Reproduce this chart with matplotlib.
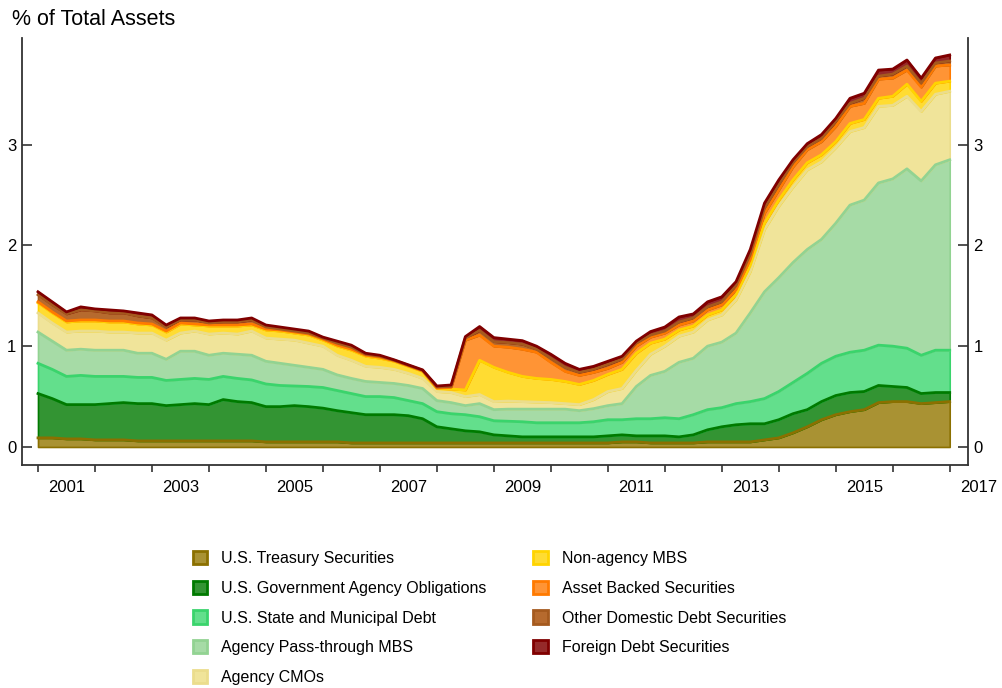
import numpy as np
import matplotlib
matplotlib.use("Agg")
import matplotlib.pyplot as plt
from matplotlib.patches import Patch
from matplotlib.transforms import blended_transform_factory

plt.rcParams['font.family'] = ['Liberation Sans', 'DejaVu Sans']

# quarterly observations, 2001Q1 .. 2017Q1 position on the axis
n_q = 65
quarters = 2001 + 0.25 * np.arange(n_q)

treasury = [0.09, 0.09, 0.08, 0.08, 0.07, 0.07, 0.07, 0.06, 0.06, 0.06, 0.06, 0.06, 0.06,
            0.06, 0.06, 0.06, 0.05, 0.05, 0.05, 0.05, 0.05, 0.05, 0.04, 0.04, 0.04, 0.04,
            0.04, 0.04, 0.04, 0.04, 0.04, 0.04, 0.04, 0.04, 0.04, 0.04, 0.04, 0.04, 0.04,
            0.04, 0.04, 0.05, 0.05, 0.04, 0.04, 0.04, 0.04, 0.05, 0.05, 0.05, 0.05, 0.07,
            0.09, 0.14, 0.20, 0.27, 0.32, 0.35, 0.37, 0.44, 0.45, 0.45, 0.43, 0.44, 0.45]
agency_oblig = [0.44, 0.39, 0.34, 0.34, 0.35, 0.36, 0.37, 0.37, 0.37, 0.35, 0.36, 0.37, 0.36,
                0.41, 0.39, 0.38, 0.35, 0.35, 0.36, 0.35, 0.335, 0.31, 0.30, 0.28, 0.28, 0.28,
                0.27, 0.24, 0.16, 0.14, 0.12, 0.11, 0.08, 0.07, 0.06, 0.06, 0.06, 0.06, 0.06,
                0.06, 0.07, 0.07, 0.06, 0.07, 0.07, 0.06, 0.08, 0.12, 0.15, 0.17, 0.18, 0.16,
                0.18, 0.19, 0.17, 0.18, 0.19, 0.19, 0.18, 0.17, 0.15, 0.14, 0.10, 0.10, 0.09]
muni = [0.30, 0.29, 0.28, 0.29, 0.28, 0.27, 0.26, 0.26, 0.26, 0.25, 0.25, 0.25, 0.25,
        0.23, 0.23, 0.225, 0.225, 0.21, 0.195, 0.20, 0.205, 0.20, 0.19, 0.18, 0.18, 0.17,
        0.15, 0.15, 0.15, 0.15, 0.16, 0.15, 0.14, 0.145, 0.15, 0.14, 0.14, 0.14, 0.14,
        0.15, 0.16, 0.15, 0.17, 0.17, 0.18, 0.18, 0.20, 0.20, 0.19, 0.21, 0.22, 0.25,
        0.28, 0.31, 0.36, 0.38, 0.39, 0.40, 0.41, 0.40, 0.40, 0.39, 0.38, 0.42, 0.42]
pass_through = [0.31, 0.28, 0.26, 0.26, 0.26, 0.26, 0.26, 0.24, 0.24, 0.21, 0.28, 0.27, 0.24,
                0.23, 0.24, 0.245, 0.225, 0.22, 0.205, 0.19, 0.18, 0.155, 0.15, 0.15, 0.14, 0.14,
                0.15, 0.15, 0.11, 0.11, 0.09, 0.13, 0.11, 0.12, 0.125, 0.135, 0.135, 0.135, 0.12,
                0.13, 0.14, 0.16, 0.32, 0.43, 0.46, 0.56, 0.56, 0.63, 0.65, 0.70, 0.88, 1.06,
                1.13, 1.19, 1.23, 1.23, 1.32, 1.46, 1.49, 1.61, 1.66, 1.78, 1.73, 1.84, 1.89]
cmos = [0.19, 0.18, 0.18, 0.18, 0.19, 0.18, 0.18, 0.20, 0.20, 0.19, 0.18, 0.20, 0.21,
        0.20, 0.20, 0.24, 0.23, 0.24, 0.25, 0.24, 0.23, 0.195, 0.18, 0.15, 0.15, 0.14,
        0.12, 0.10, 0.09, 0.10, 0.09, 0.09, 0.08, 0.08, 0.075, 0.07, 0.065, 0.055, 0.06,
        0.09, 0.14, 0.15, 0.16, 0.21, 0.25, 0.26, 0.26, 0.26, 0.27, 0.33, 0.41, 0.62,
        0.71, 0.75, 0.79, 0.77, 0.75, 0.73, 0.72, 0.76, 0.73, 0.72, 0.69, 0.70, 0.68]
non_agency = [0.10, 0.10, 0.10, 0.10, 0.10, 0.10, 0.10, 0.09, 0.08, 0.08, 0.09, 0.06, 0.08,
              0.07, 0.08, 0.06, 0.08, 0.08, 0.07, 0.08, 0.06, 0.09, 0.10, 0.10, 0.09, 0.08,
              0.07, 0.07, 0.03, 0.035, 0.065, 0.34, 0.34, 0.285, 0.25, 0.235, 0.23, 0.22, 0.20,
              0.19, 0.17, 0.19, 0.17, 0.11, 0.07, 0.06, 0.06, 0.05, 0.05, 0.05, 0.06, 0.06,
              0.06, 0.07, 0.07, 0.07, 0.06, 0.08, 0.08, 0.08, 0.09, 0.12, 0.10, 0.11, 0.10]
abs_sec = [0.01, 0.01, 0.01, 0.01, 0.01, 0.01, 0.01, 0.01, 0.01, 0.01, 0.01, 0.01, 0.01,
           0.01, 0.01, 0.01, 0.01, 0.01, 0.01, 0.01, 0.01, 0.01, 0.01, 0.01, 0.01, 0.005,
           0.005, 0.005, 0.005, 0.015, 0.495, 0.25, 0.21, 0.25, 0.27, 0.26, 0.17, 0.10, 0.09,
           0.08, 0.06, 0.07, 0.07, 0.06, 0.06, 0.05, 0.05, 0.05, 0.05, 0.05, 0.06, 0.10,
           0.10, 0.13, 0.13, 0.13, 0.15, 0.17, 0.16, 0.19, 0.18, 0.14, 0.14, 0.17, 0.16]
other_domestic = [0.07, 0.07, 0.07, 0.10, 0.09, 0.08, 0.08, 0.07, 0.06, 0.04, 0.03, 0.04, 0.02,
                  0.03, 0.03, 0.04, 0.02, 0.01, 0.01, 0.01, 0.01, 0.02, 0.02, 0.01, 0.01, 0.005,
                  0.005, 0.005, 0.01, 0.01, 0.02, 0.045, 0.045, 0.045, 0.05, 0.03, 0.04, 0.04, 0.03,
                  0.03, 0.04, 0.03, 0.03, 0.02, 0.02, 0.03, 0.03, 0.03, 0.03, 0.04, 0.05, 0.05,
                  0.05, 0.04, 0.03, 0.03, 0.05, 0.03, 0.05, 0.03, 0.04, 0.04, 0.04, 0.03, 0.04]
foreign = [0.03, 0.03, 0.02, 0.03, 0.02, 0.03, 0.02, 0.03, 0.03, 0.02, 0.02, 0.02, 0.02,
           0.02, 0.02, 0.02, 0.02, 0.02, 0.02, 0.02, 0.01, 0.02, 0.02, 0.01, 0.01, 0.005,
           0.005, 0.005, 0.01, 0.015, 0.015, 0.04, 0.04, 0.035, 0.035, 0.03, 0.04, 0.04, 0.03,
           0.03, 0.03, 0.03, 0.02, 0.035, 0.04, 0.05, 0.04, 0.05, 0.05, 0.04, 0.05, 0.05,
           0.05, 0.03, 0.03, 0.04, 0.03, 0.05, 0.05, 0.06, 0.05, 0.06, 0.05, 0.05, 0.06]

labels = ["U.S. Treasury Securities", "U.S. Government Agency Obligations",
          "U.S. State and Municipal Debt", "Agency Pass-through MBS", "Agency CMOs",
          "Non-agency MBS", "Asset Backed Securities", "Other Domestic Debt Securities",
          "Foreign Debt Securities"]
fills = ["#a99233", "#339433", "#63df8c", "#a6dba6", "#f0e49a",
         "#ffdc32", "#ff9435", "#b66a2e", "#952a2a"]
edges = ["#8b7000", "#007a00", "#3ad46c", "#92d392", "#ebdd8c",
         "#ffd400", "#ff7a00", "#a55a1e", "#800000"]

year_ticks = list(range(2001, 2018))
year_labels = [2001, 2003, 2005, 2007, 2009, 2011, 2013, 2015, 2017]

series = [treasury, agency_oblig, muni, pass_through, cmos,
          non_agency, abs_sec, other_domestic, foreign]
stack = np.array(series)
tops = np.cumsum(stack, axis=0)

fig = plt.figure(figsize=(10.02, 6.88), dpi=100)
ax = fig.add_axes([0.022, 0.324, 0.944, 0.621])

polys = ax.stackplot(quarters, *stack, colors=fills, linewidth=1.2)
for p, ec in zip(polys, edges):
    p.set_edgecolor(ec)
for k in range(len(series)):
    ax.plot(quarters, tops[k], color=edges[k], lw=2.0, solid_joinstyle='round')

ax.set_xlim(2000.72, 2017.32)
ax.set_ylim(-0.18, 4.06)

ax.spines['top'].set_visible(False)
for s in ['left', 'right', 'bottom']:
    ax.spines[s].set_color('#333333')
    ax.spines[s].set_linewidth(1.3)

ax.set_yticks([0, 1, 2, 3])
ax.tick_params(axis='y', which='both', direction='in', length=7, width=1.2,
               labelsize=12, left=True, right=True, labelleft=True, labelright=True,
               color='#333333', pad=4)
ax.set_xticks(year_ticks)
ax.set_xticklabels([])
ax.tick_params(axis='x', direction='out', length=5, width=1.2, color='#333333')

trans = blended_transform_factory(ax.transData, ax.transAxes)
for yr in year_labels:
    ax.text(yr + 0.5, -0.052, str(yr), transform=trans, ha='center', va='center',
            fontsize=12, clip_on=False)

fig.text(0.012, 0.971, "% of Total Assets", fontsize=15.5, ha='left', va='center')

handles = [Patch(facecolor=f, edgecolor=e, linewidth=2) for f, e in zip(fills, edges)]
fig.legend(handles, labels, ncol=2, loc='upper left', bbox_to_anchor=(0.178, 0.22),
           frameon=False, fontsize=11.5, handlelength=0.9, handleheight=0.9,
           handletextpad=0.9, labelspacing=0.91, columnspacing=2.9)

fig.savefig("out.png", dpi=100)
